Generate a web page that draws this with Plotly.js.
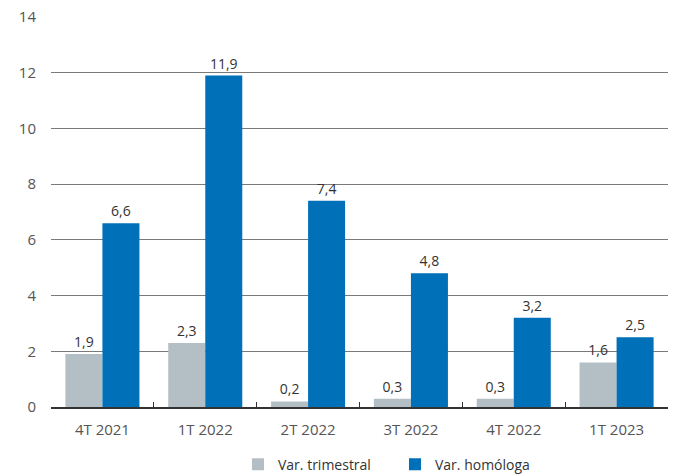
<!DOCTYPE html>
<html>
<head>
<meta charset="utf-8">
<script src="https://cdn.plot.ly/plotly-3.0.1.min.js"></script>
<style>html,body{margin:0;padding:0;background:#fff;}#chart{width:678px;height:475px;}</style>
</head>
<body>
<div id="chart"></div>
<script>
const categories = ["4T 2021", "1T 2022", "2T 2022", "3T 2022", "4T 2022", "1T 2023"];
const varTrimestral = [1.9, 2.3, 0.2, 0.3, 0.3, 1.6];
const varHomologa = [6.6, 11.9, 7.4, 4.8, 3.2, 2.5];
const yTicks = [0, 2, 4, 6, 8, 10, 12, 14];

const FONT = "Open Sans, Noto Sans, sans-serif";

const traces = [
  {
    type: "bar", name: "Var. trimestral", x: categories, y: varTrimestral,
    marker: {color: "#b4bfc5"},
    text: varTrimestral, texttemplate: "%{y:.1f}", textposition: "outside",
    textfont: {family: FONT, size: 14, color: "#333"}, cliponaxis: false,
    hoverinfo: "skip"
  },
  {
    type: "bar", name: "Var. homóloga", x: categories, y: varHomologa,
    marker: {color: "#0070b8"},
    text: varHomologa, texttemplate: "%{y:.1f}", textposition: "outside",
    textfont: {family: FONT, size: 14, color: "#333"}, cliponaxis: false,
    hoverinfo: "skip"
  }
];

const layout = {
  width: 678, height: 475,
  margin: {l: 51, r: 10, t: 17, b: 68, autoexpand: false},
  paper_bgcolor: "#fff", plot_bgcolor: "#fff",
  separators: ",.",
  font: {family: FONT, size: 15, color: "#555"},
  barmode: "group", bargap: 0.28, bargroupgap: 0,
  showlegend: true,
  legend: {orientation: "h", x: 0.351, xref: "container", xanchor: "left",
           y: 0.022, yref: "container", yanchor: "middle",
           font: {family: FONT, size: 14, color: "#333"}, entrywidth: 112, entrywidthmode: "pixels",
           traceorder: "normal", tracegroupgap: 0},
  xaxis: {
    showline: true, linecolor: "#333", linewidth: 1.5,
    ticks: "inside", tickson: "boundaries", ticklen: 5, tickcolor: "#333",
    showgrid: false, zeroline: false, automargin: false,
    tickfont: {family: FONT, size: 15, color: "#555"},
    ticklabelstandoff: 8
  },
  yaxis: {
    range: [0, 14], tickvals: yTicks, ticktext: yTicks.map(String),
    showgrid: true, gridcolor: "#7a7a7a", gridwidth: 1,
    zeroline: false, showline: false, ticks: "", automargin: false,
    tickfont: {family: FONT, size: 15, color: "#555"},
    ticklabelstandoff: 14
  }
};

Plotly.newPlot("chart", traces, layout, {displayModeBar: false, staticPlot: true});
</script>
</body>
</html>
